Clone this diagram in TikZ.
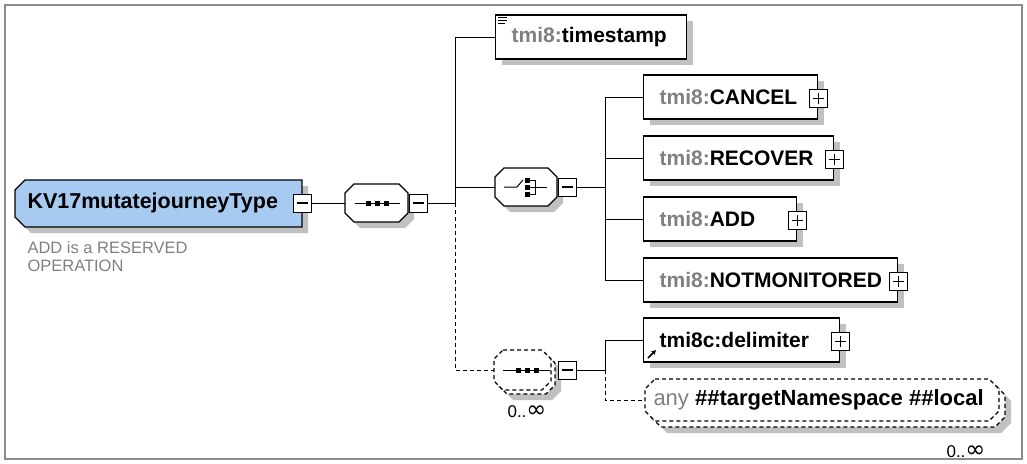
\documentclass[tikz,border=0pt]{standalone}
\usepackage{fontspec}
\setmainfont{Liberation Sans}
\newfontfamily\symfont{DejaVu Sans}
\usetikzlibrary{shadows,arrows.meta}
\definecolor{kvblue}{RGB}{166,202,240}
\definecolor{shgray}{RGB}{192,192,192}
\definecolor{pregray}{RGB}{128,128,128}
\definecolor{framegray}{RGB}{140,140,140}
\newcommand\octpath[5]{(#1+#5,#2) -- (#3-#5,#2) -- (#3,#2+#5) -- (#3,#4-#5) -- (#3-#5,#4) -- (#1+#5,#4) -- (#1,#4-#5) -- (#1,#2+#5) -- cycle}
\newcommand\boxtxt[2]{\makebox[#1pt][l]{\hspace{16pt}#2}}
\newcommand\pre{\color{pregray}tmi8:\color{black}}
\newcommand\infsym{{\symfont\fontsize{24}{24}\selectfont ∞}}
\begin{document}
\begin{tikzpicture}[x=1pt,y=-1pt,line width=1pt,
  shad/.style={drop shadow={shadow xshift=6pt,shadow yshift=-6pt,fill=shgray,opacity=1}},
  bigfont/.style={font=\bfseries\fontsize{21}{24}\selectfont},
  elem/.style={draw,line width=1.2pt,fill=white,shad,rectangle,inner sep=0pt,minimum height=44pt,anchor=west,bigfont},
  shapeline/.style={draw,line width=1.2pt,fill=white},
  conn/.style={draw,line width=1pt},
  dconn/.style={draw,line width=1pt,dash pattern=on 4pt off 3pt},
  dshape/.style={draw,line width=1.2pt,fill=white,dash pattern=on 4pt off 3pt},
  anchorbox/.style={draw=none,inner sep=0pt},
  pbox/.style={draw,line width=1pt,fill=white,minimum size=18pt,inner sep=0pt,
    path picture={\draw[line width=1.4pt] ([xshift=3.5pt]path picture bounding box.west) -- ([xshift=-3.5pt]path picture bounding box.east) ([yshift=-3.5pt]path picture bounding box.north) -- ([yshift=3.5pt]path picture bounding box.south);}},
  mbox/.style={draw,line width=1pt,fill=white,minimum size=18pt,inner sep=0pt,
    path picture={\draw[line width=1.4pt] ([xshift=3.5pt]path picture bounding box.west) -- ([xshift=-3.5pt]path picture bounding box.east);}},
  occ/.style={font=\fontsize{17}{19}\selectfont,inner sep=0pt},
]
\useasboundingbox (0,0) rectangle (1027,463);
\draw[framegray,line width=2pt] (5,5) rectangle (1022,459);

% root type
\path[shad,draw,fill=kvblue,line width=1.2pt] (25,180) -- (302,180) -- (302,227) -- (25,227) -- (15,217) -- (15,190) -- cycle;
\node[anchor=west,inner sep=0pt,font=\bfseries\fontsize{21.5}{24}\selectfont] (kv) at (27,203) {KV17mutatejourneyType};
\node[anchor=north west,align=left,inner sep=0pt,text=pregray,font=\fontsize{16.5}{18}\selectfont] (note) at (27,241) {ADD is a RESERVED\\OPERATION};

% sequence
\path[shad,shapeline] \octpath{345}{184}{408}{222}{9};
\node[anchorbox,minimum width=63pt,minimum height=38pt] (seq) at (376.5,203) {};
\draw (355,203) -- (400,203);
\foreach \xx in {368,377,386} \fill (\xx-2.5,200.5) rectangle (\xx+2.5,205.5);

% choice
\path[shad,shapeline] \octpath{495}{168}{557}{206}{9};
\node[anchorbox,minimum width=62pt,minimum height=38pt] (choice) at (526,187) {};
\draw (504,187) -- (517,187) -- (523,180);
\foreach \yy in {180,187,194} \fill (525,\yy-2.5) rectangle (530,\yy+2.5);
\draw (530,180) -- (535,180) -- (535,194) -- (530,194);
\draw (530,187) -- (547,187);

% lower sequence (0..inf)
\path[shad,dshape] \octpath{498}{354}{555}{394}{9};
\path[dshape] \octpath{494}{350}{551}{390}{9};
\node[anchorbox,minimum width=57pt,minimum height=40pt] (seqb) at (522.5,370) {};
\draw (503,370) -- (550,370);
\foreach \xx in {518,527,536} \fill (\xx-2.5,367.5) rectangle (\xx+2.5,372.5);
\node[occ] (seqbocc) at (527,412) {0..\infsym};

% elements
\node[elem] (ts) at (495,37) {\boxtxt{191}{\pre timestamp}};
\draw[line width=1pt] (498,17) -- (507,17) (498,20) -- (507,20) (498,23) -- (505,23);
\node[elem] (cancel) at (643,97) {\boxtxt{174}{\pre CANCEL}};
\node[elem] (recover) at (643,158) {\boxtxt{190}{\pre RECOVER}};
\node[elem] (add) at (643,219) {\boxtxt{153}{\pre ADD}};
\node[elem] (notmon) at (643,280) {\boxtxt{254}{\pre NOTMONITORED}};
\node[elem] (delim) at (643,340) {\boxtxt{196}{tmi8c:delimiter}};
\draw[line width=1.5pt,-{Stealth[length=5pt,width=5pt]}] (648,358) -- (656,350);

% any
\path[shad,dshape] \octpath{651}{385}{1005}{427}{10};
\path[dshape] \octpath{645}{379}{999}{421}{10};
\node[anchor=west,inner xsep=8pt,inner ysep=0pt,minimum height=42pt,font=\bfseries\fontsize{22}{24}\selectfont] (any) at (645,400) {{\mdseries\color{pregray}any} \#\#targetNamespace \#\#local};
\node[occ] (anyocc) at (966,452) {0..\infsym};

% junctions
\coordinate (j1) at (455,203);
\coordinate (j2) at (605,187);
\coordinate (j3) at (605,370);

% expand boxes
\node[mbox] (kvpm) at (302,203) {};
\node[mbox] (seqpm) at (418,203) {};
\node[mbox] (choicepm) at (567,187) {};
\node[mbox] (seqbpm) at (567,370) {};
\node[pbox] (cancelpm) at ([yshift=-1.5pt]cancel.east) {};
\node[pbox] (recoverpm) at ([yshift=-1.5pt]recover.east) {};
\node[pbox] (addpm) at ([yshift=-1.5pt]add.east) {};
\node[pbox] (notmonpm) at ([yshift=-1.5pt]notmon.east) {};
\node[pbox] (delimpm) at ([yshift=-1.5pt]delim.east) {};

% connectors
\draw[conn] (kvpm.east) -- (seq.west);
\draw[conn] (seqpm.east) -- (j1);
\draw[conn] (j1) |- (ts.west);
\draw[conn] (j1) |- (choice.west);
\draw[dconn] (j1) |- (seqb.west);
\draw[conn] (choicepm.east) -- (j2);
\draw[conn] (j2) |- (cancel.west);
\draw[conn] (j2) |- (recover.west);
\draw[conn] (j2) |- (add.west);
\draw[conn] (j2) |- (notmon.west);
\draw[conn] (seqbpm.east) -- (j3);
\draw[conn] (j3) |- (delim.west);
\draw[dconn] (j3) |- (any.west);
\end{tikzpicture}
\end{document}
